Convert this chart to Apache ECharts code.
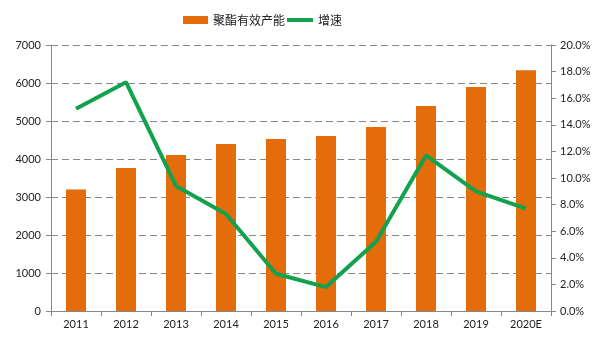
<!DOCTYPE html>
<html><head><meta charset="utf-8">
<script src="https://cdn.jsdelivr.net/npm/echarts@6/dist/echarts.min.js"></script>
<style>html,body{margin:0;padding:0;background:#fff}#c{width:605px;height:340px}</style>
</head><body><div id="c"></div>
<script>
const categories = ['2011','2012','2013','2014','2015','2016','2017','2018','2019','2020E'];
const capacity = [3200, 3760, 4105, 4395, 4525, 4605, 4840, 5395, 5895, 6335];
const growth = [15.2, 17.2, 9.4, 7.3, 2.8, 1.8, 5.2, 11.7, 9.0, 7.7];
const leftTicks = {min: 0, max: 7000, interval: 1000};
const rightTicks = {min: 0, max: 20, interval: 2};

const chart = echarts.init(document.getElementById('c'));
const font = 'Lato, "Noto Sans CJK SC", sans-serif';
const legendText = {fontSize: 12, color: '#222', fontFamily: '"Noto Sans CJK SC", sans-serif'};
chart.setOption({
  animation: false,
  textStyle: {fontFamily: font},
  legend: [{
    top: 9, left: 178, itemWidth: 25, itemHeight: 8, itemGap: 4,
    textStyle: legendText,
    data: [{name: '聚酯有效产能', icon: 'rect'}]
  }, {
    top: 9, left: 282, itemWidth: 26, itemHeight: 4,
    textStyle: legendText,
    data: [{name: '增速', icon: 'rect'}]
  }],
  grid: {left: 51, right: 54, top: 45, bottom: 29},
  xAxis: {
    type: 'category', data: categories, boundaryGap: true,
    axisLine: {lineStyle: {color: '#888', width: 1}},
    axisTick: {show: true, alignWithLabel: false, length: 5, lineStyle: {color: '#888'}},
    axisLabel: {color: '#222', fontSize: 11, margin: 8, interval: 0}
  },
  yAxis: [{
    type: 'value', min: leftTicks.min, max: leftTicks.max, interval: leftTicks.interval,
    axisLine: {show: true, lineStyle: {color: '#888'}},
    axisTick: {show: true, length: 5, lineStyle: {color: '#888'}},
    axisLabel: {color: '#222', fontSize: 11, margin: 10, formatter: v => String(v)},
    splitLine: {show: true, lineStyle: {color: '#888', type: [7, 4], width: 1}}
  }, {
    type: 'value', min: rightTicks.min, max: rightTicks.max, interval: rightTicks.interval,
    position: 'right',
    axisLine: {show: true, lineStyle: {color: '#888'}},
    axisTick: {show: true, length: 5, lineStyle: {color: '#888'}},
    axisLabel: {color: '#222', fontSize: 11, margin: 9, formatter: v => v.toFixed(1) + '%'},
    splitLine: {show: false}
  }],
  series: [{
    name: '聚酯有效产能', type: 'bar', data: capacity, barWidth: '40%',
    itemStyle: {color: '#E46C0A'}
  }, {
    name: '增速', type: 'line', yAxisIndex: 1, data: growth,
    symbol: 'none', lineStyle: {color: '#12A24E', width: 4},
    itemStyle: {color: '#12A24E'}
  }]
});
</script></body></html>
